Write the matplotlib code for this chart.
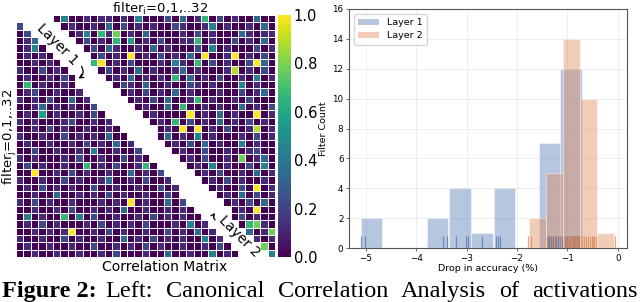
import numpy as np
import matplotlib
matplotlib.use('Agg')
import matplotlib.pyplot as plt
from matplotlib.patches import Patch, FancyArrowPatch

# correlation matrix, one string per row: digit d -> d/9, '.' -> empty cell
corr_rows = [
    "..... 04001 01101 04000 20301 60201 00300",
    "2.... .0100 10302 01010 02100 14010 01030",
    "02... ..014 06170 10300 00102 01000 31011",
    "013.. ...02 01060 50102 00116 01002 01030",
    "0140. ....0 20310 01030 10002 04010 00201",
    "01010 ..... 02010 90102 01030 90019 01020",
    "00101 0.... 69010 20001 04106 02010 02930",
    "10020 10... .0201 03010 01301 00018 01020",
    "01001 020.. ..010 30101 06030 10200 10401",
    "06010 010.. ...02 10300 10021 01000 40100",
    "01200 1001. ....0 10201 03010 00100 20130",
    "10102 00301 ..... 01020 30016 01001 02000",
    "00130 10100 2.... .0100 30600 10100 30102",
    "01050 10010 20... ..010 00090 10301 00901",
    "10100 01200 101.. ...01 06020 10301 02010",
    "00102 01001 0010. ....0 10909 01020 01801",
    "10010 02010 10300 ....0 30104 01000 10201",
    "01001 00102 01030 1.... 01020 30100 40100",
    "00200 10010 40010 02... .0100 20010 01200",
    "10100 01020 01002 010.. ..010 20010 70130",
    "02010 01006 01020 0160. ...01 04010 02040",
    "00900 10201 00100 30102 ....0 10200 10301",
    "10010 02010 01300 10200 1.... 01020 10010",
    "01020 10100 20010 01002 01... .0100 20901",
    "00100 30010 10201 00100 20... ..010 30201",
    "10201 00100 01010 90100 302.. ...01 02030",
    "00100 10200 10103 00100 1010. ....0 10900",
    "04010 06040 20010 01020 10100 ....0 20100",
    "01020 10001 02010 10200 01040 1.... 06710",
    "00101 01900 10201 00100 20103 01... .3017",
    "10010 02010 01003 01020 10100 401.. ..101",
    "01001 00100 20010 10201 00100 1020. ...70",
    "00100 10010 01020 00100 30010 04010 ....4",
]

# histogram: bar left edges, widths and filter counts
layer1_left = [-5.10, -3.79, -3.35, -2.91, -2.46, -1.57, -1.15]
layer1_width = 0.43
layer1_count = [2, 2, 4, 1, 4, 7, 12]
layer2_left = [-1.76, -1.43, -1.09, -0.75, -0.41]
layer2_width = 0.34
layer2_count = [2, 5, 14, 10, 1]

# rug values (drop in accuracy per filter)
layer1_rug = [-5.10, -5.02, -3.46, -3.38, -3.21, -3.02, -2.98, -2.70, -2.42, -2.38,
              -2.33, -1.38, -1.36, -1.32, -1.29, -1.25, -1.22, -1.19, -1.14, -1.10,
              -1.05, -1.02, -1.00, -0.97, -0.95, -0.92, -0.90, -0.87, -0.85, -0.82,
              -0.80, -0.78]
layer2_rug = [-1.78, -1.72, -1.40, -1.35, -1.30, -1.25, -1.15, -1.05, -1.02, -1.00,
              -0.98, -0.96, -0.94, -0.92, -0.90, -0.88, -0.86, -0.84, -0.82, -0.80,
              -0.78, -0.72, -0.68, -0.64, -0.60, -0.56, -0.52, -0.50, -0.47, -0.44,
              -0.05]

caption_words = ['Left:', 'Canonical', 'Correlation', 'Analysis', 'of', 'activations']

blue = '#4c72b0'
orange = '#dd8452'

W, H = 640, 302
fig = plt.figure(figsize=(W / 100, H / 100), dpi=100)


def fx(px):
    return px / W


def fy(py):
    return 1 - py / H


# ---------- left: correlation matrix ----------
grid = []
for row in corr_rows:
    row = row.replace(' ', '')
    grid.append([np.nan if c == '.' else int(c) / 9 for c in row])
grid = np.ma.masked_invalid(np.array(grid))

ax1 = fig.add_axes([fx(16), fy(257), fx(275) - fx(16), fy(15) - fy(257)])
mesh = ax1.pcolormesh(grid, cmap='viridis', vmin=0, vmax=1,
                      edgecolors='white', linewidth=0.5)
ax1.set_xlim(0, grid.shape[1])
ax1.set_ylim(grid.shape[0], 0)
ax1.axis('off')

cax = fig.add_axes([fx(278), fy(257), fx(291) - fx(278), fy(15) - fy(257)])
cb = fig.colorbar(mesh, cax=cax, ticks=[0, 0.2, 0.4, 0.6, 0.8, 1.0])
cb.outline.set_visible(False)
cb.ax.tick_params(length=0, labelsize=10.5, pad=2)
cb.ax.set_yticklabels(['0.0', '0.2', '0.4', '0.6', '0.8', '1.0'])

fig.text(fx(160), fy(9), 'filter$_\\mathregular{i}$=0,1,..32', ha='center', va='center', fontsize=9.5)
fig.text(fx(165), fy(267), 'Correlation Matrix', ha='center', va='center', fontsize=10)
fig.text(fx(10), fy(137), 'filter$_\\mathregular{j}$=0,1,..32', ha='center', va='center',
         rotation=90, fontsize=9.5)

fig.text(fx(57), fy(44), 'Layer 1', ha='center', va='center', rotation=-45, fontsize=10)
fig.text(fx(239), fy(236), 'Layer 2', ha='center', va='center', rotation=-45, fontsize=10)
fig.patches.append(FancyArrowPatch(
    (fx(80), fy(64)), (fx(76), fy(80)), transform=fig.transFigure,
    connectionstyle='arc3,rad=-0.6', arrowstyle='->', mutation_scale=7, lw=0.9, color='black'))
fig.patches.append(FancyArrowPatch(
    (fx(217), fy(222)), (fx(217), fy(211)), transform=fig.transFigure,
    connectionstyle='arc3,rad=-0.6', arrowstyle='->', mutation_scale=6, lw=0.9, color='black'))

# ---------- right: histogram ----------
ax2 = fig.add_axes([fx(349), fy(248), fx(627) - fx(349), fy(9) - fy(248)])
ax2.bar(layer1_left, layer1_count, width=layer1_width, align='edge', color=blue,
        alpha=0.4, edgecolor='white', linewidth=0.8, label='Layer 1', zorder=2)
ax2.bar(layer2_left, layer2_count, width=layer2_width, align='edge', color=orange,
        alpha=0.4, edgecolor='white', linewidth=0.8, label='Layer 2', zorder=2)
ax2.vlines(layer1_rug, 0, 0.8, color=blue, alpha=0.7, linewidth=0.9, zorder=3)
ax2.vlines(layer2_rug, 0, 0.8, color=orange, alpha=0.7, linewidth=0.9, zorder=3)

ax2.set_xlim(-5.33, 0.18)
ax2.set_ylim(0, 16)
ax2.set_xticks([-5, -4, -3, -2, -1, 0])
ax2.set_yticks(range(0, 17, 2))
ax2.grid(True, color='#ebebeb', linewidth=0.6, zorder=0)
ax2.set_axisbelow(True)
for s in ax2.spines.values():
    s.set_color('#555555')
    s.set_linewidth(0.8)
ax2.tick_params(labelsize=6.3, length=2, width=0.6, color='#555555', pad=2)
ax2.set_xlabel('Drop in accuracy (%)', fontsize=6.8, labelpad=1)
ax2.set_ylabel('Filter Count', fontsize=6.8, labelpad=3)
handles = [Patch(facecolor=blue, alpha=0.4, label='Layer 1'),
           Patch(facecolor=orange, alpha=0.4, label='Layer 2')]
ax2.legend(handles=handles, loc='upper left', fontsize=6.8, framealpha=0.8,
           handlelength=2.2, borderpad=0.5, labelspacing=0.4)

# ---------- caption (justified over the full width) ----------
r = fig.canvas.get_renderer()
cap_size = 17.5
t1 = fig.text(fx(2), fy(297), 'Figure 2:', fontsize=cap_size, fontweight='bold',
              family='Liberation Serif', ha='left', va='baseline')
x0 = t1.get_window_extent(renderer=r).x1 + 9
x_end = 638
words = [fig.text(0, fy(297), w, fontsize=cap_size, family='Liberation Serif',
                  ha='left', va='baseline') for w in caption_words]
widths = [w.get_window_extent(renderer=r).width for w in words]
gap = (x_end - x0 - sum(widths)) / (len(words) - 1)
x = x0
for w, wd in zip(words, widths):
    w.set_x(fx(x))
    x += wd + gap

fig.savefig('out.png', dpi=100)
